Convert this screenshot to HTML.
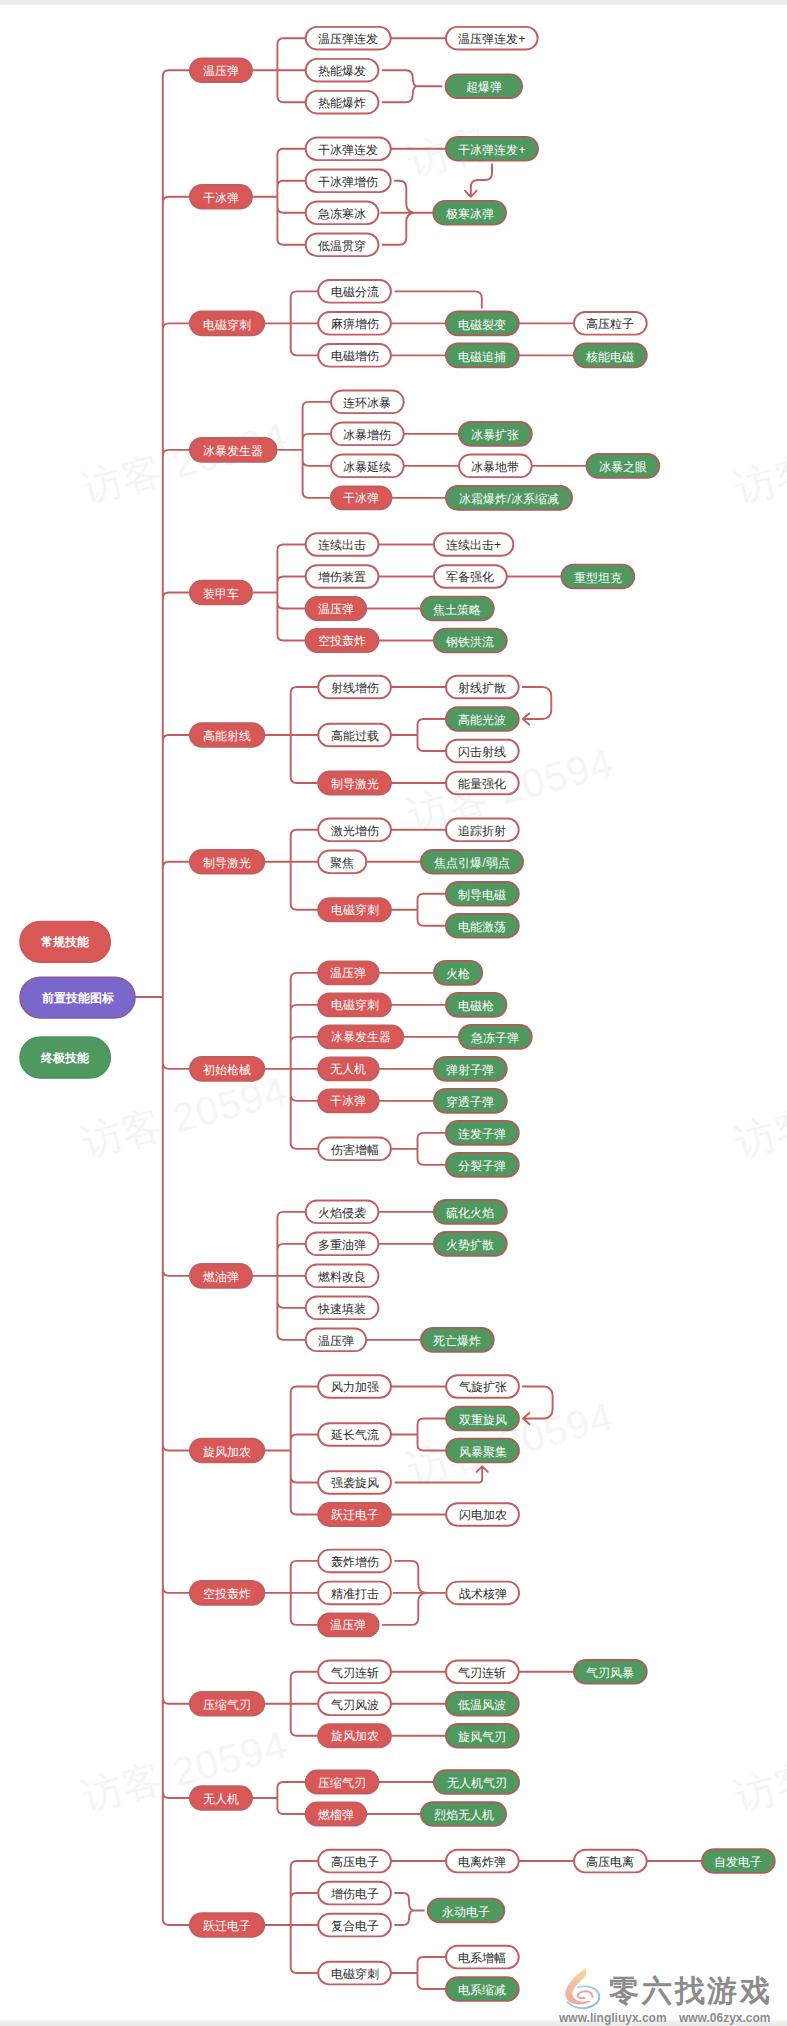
<!DOCTYPE html>
<html lang="zh"><head><meta charset="utf-8"><title>技能树</title>
<style>
html,body{margin:0;padding:0;background:#fff}
body{width:787px;height:2026px;position:relative;overflow:hidden;font-family:"Liberation Sans",sans-serif}
.bar{position:absolute;left:0;width:787px;background:#ececec}
svg.c{position:absolute;left:0;top:0}
.n{position:absolute;text-align:center;white-space:nowrap;font-size:12.3px;color:#fff;overflow:visible}
.w{color:#2a2a2a}
.root{font-weight:bold;font-size:12.3px}
.wm{position:absolute;font-size:40px;line-height:40px;height:40px;color:#f5f5f5;white-space:nowrap;transform:rotate(-15deg);transform-origin:0 100%;letter-spacing:1px}
.logo{position:absolute;left:609px;top:1972px;width:161px;font-size:30px;font-weight:bold;color:#8c8c8c;white-space:nowrap;line-height:38px;text-align:justify;text-align-last:justify;text-justify:inter-character}
.url{position:absolute;left:559px;top:2010.5px;font-size:12px;font-weight:bold;color:#8c8c8c;white-space:nowrap;line-height:14px;word-spacing:9px}

</style></head><body>
<div class="bar" style="top:0;height:6px;background:linear-gradient(to bottom,#ececec 0,#ececec 3.4px,#fff 6px)"></div><div class="bar" style="top:2019px;height:7px;background:linear-gradient(to bottom,#fff 0,#ececec 3.2px,#ececec 7px)"></div>
<div class="wm" style="left:414px;top:142px">访客</div>
<div class="wm" style="left:88px;top:469px">访客 20594</div>
<div class="wm" style="left:741px;top:469px">访客</div>
<div class="wm" style="left:414px;top:795px">访客 20594</div>
<div class="wm" style="left:88px;top:1123px">访客 20594</div>
<div class="wm" style="left:741px;top:1123px">访客</div>
<div class="wm" style="left:414px;top:1449px">访客 20594</div>
<div class="wm" style="left:88px;top:1777px">访客 20594</div>
<div class="wm" style="left:741px;top:1777px">访客</div>
<svg class="c" width="787" height="2026" viewBox="0 0 787 2026" fill="none" stroke="#c05e60" stroke-width="1.9" stroke-linecap="round" stroke-linejoin="round">
<path d="M250.90,70.20 H277.40 V44.20 Q277.40,38.20 283.40,38.20 H306.70 M250.90,70.20 H306.70 M250.90,70.20 H277.40 V96.20 Q277.40,102.20 283.40,102.20 H306.70 M389.70,38.20 L447.00,38.20 M382.60,70.20 H405.70 Q412.70,70.20 412.70,77.20 V77.20 Q412.70,85.20 416.50,86.20 M382.60,102.20 H405.70 Q412.70,102.20 412.70,95.20 V95.20 Q412.70,87.20 416.50,86.20 M416.50,86.20 H441.60 M250.90,196.78 H277.40 V154.78 Q277.40,148.78 283.40,148.78 H306.70 M250.90,196.78 H277.40 V186.78 Q277.40,180.78 283.40,180.78 H306.70 M250.90,196.78 H277.40 V206.78 Q277.40,212.78 283.40,212.78 H306.70 M250.90,196.78 H277.40 V238.78 Q277.40,244.78 283.40,244.78 H306.70 M389.70,148.78 L447.00,148.78 M394.90,180.78 H399.30 Q406.30,180.78 406.30,187.78 V203.78 Q406.30,211.78 414.30,212.78 M381.10,212.78 L414.30,212.78 H431.80 M382.60,244.78 H399.30 Q406.30,244.78 406.30,237.78 V221.78 Q406.30,213.78 414.30,212.78 M414.30,212.78 H429.30 M492.00,164.28 V173.28 Q492.00,179.98 485.00,179.98 H478.00 Q470.80,179.98 470.80,187.28 V196.78 M465.10,190.78 L470.80,196.78 L476.50,190.78 M263.20,323.36 H290.70 V297.36 Q290.70,291.36 296.70,291.36 H319.20 M263.20,323.36 H319.20 M263.20,323.36 H290.70 V349.36 Q290.70,355.36 296.70,355.36 H319.20 M389.90,323.36 L447.00,323.36 M389.90,355.36 L447.00,355.36 M517.70,323.36 L575.00,323.36 M517.70,355.36 L575.00,355.36 M395.40,291.36 H475.00 Q481.80,291.36 481.80,298.36 V307.86 M275.50,449.84 H302.60 V407.84 Q302.60,401.84 308.60,401.84 H332.00 M275.50,449.84 H302.60 V439.84 Q302.60,433.84 308.60,433.84 H332.00 M275.50,449.84 H302.60 V459.84 Q302.60,465.84 308.60,465.84 H332.00 M275.50,449.84 H302.60 V491.84 Q302.60,497.84 308.60,497.84 H332.00 M402.70,433.84 L460.00,433.84 M402.70,465.84 L460.00,465.84 M530.70,465.84 L587.50,465.84 M390.40,497.84 L447.00,497.84 M250.90,592.52 H277.40 V550.52 Q277.40,544.52 283.40,544.52 H306.70 M250.90,592.52 H277.40 V582.52 Q277.40,576.52 283.40,576.52 H306.70 M250.90,592.52 H277.40 V602.52 Q277.40,608.52 283.40,608.52 H306.70 M250.90,592.52 H277.40 V634.52 Q277.40,640.52 283.40,640.52 H306.70 M377.40,544.52 L435.00,544.52 M377.40,576.52 L435.00,576.52 M505.70,576.52 L562.50,576.52 M365.10,608.52 L422.00,608.52 M377.40,640.52 L435.00,640.52 M263.20,735.00 H290.70 V693.00 Q290.70,687.00 296.70,687.00 H319.20 M263.20,735.00 H319.20 M263.20,735.00 H290.70 V777.00 Q290.70,783.00 296.70,783.00 H319.20 M389.90,687.00 L447.00,687.00 M389.90,735.00 H417.50 V725.00 Q417.50,719.00 423.50,719.00 H447.00 M389.90,735.00 H417.50 V745.00 Q417.50,751.00 423.50,751.00 H447.00 M389.90,783.00 L447.00,783.00 M522.70,687.00 H542.80 A8.5,8.5 0 0 1 551.30,695.50 V710.50 A8.5,8.5 0 0 1 542.80,719.00 H522.90 M529.10,713.50 L522.90,719.00 L529.10,724.50 M263.20,861.78 H290.70 V835.78 Q290.70,829.78 296.70,829.78 H319.20 M263.20,861.78 H319.20 M263.20,861.78 H290.70 V903.78 Q290.70,909.78 296.70,909.78 H319.20 M389.90,829.78 L447.00,829.78 M365.30,861.78 L422.00,861.78 M389.90,909.78 H417.50 V899.78 Q417.50,893.78 423.50,893.78 H447.00 M389.90,909.78 H417.50 V919.78 Q417.50,925.78 423.50,925.78 H447.00 M263.20,1068.86 H290.70 V978.86 Q290.70,972.86 296.70,972.86 H319.20 M263.20,1068.86 H290.70 V1010.86 Q290.70,1004.86 296.70,1004.86 H319.20 M263.20,1068.86 H290.70 V1042.86 Q290.70,1036.86 296.70,1036.86 H319.20 M263.20,1068.86 H319.20 M263.20,1068.86 H290.70 V1094.86 Q290.70,1100.86 296.70,1100.86 H319.20 M263.20,1068.86 H290.70 V1142.86 Q290.70,1148.86 296.70,1148.86 H319.20 M377.60,972.86 L435.00,972.86 M389.90,1004.86 L447.00,1004.86 M402.20,1036.86 L460.00,1036.86 M377.60,1068.86 L435.00,1068.86 M377.60,1100.86 L435.00,1100.86 M389.90,1148.86 H417.50 V1138.86 Q417.50,1132.86 423.50,1132.86 H447.00 M389.90,1148.86 H417.50 V1158.86 Q417.50,1164.86 423.50,1164.86 H447.00 M250.90,1275.84 H277.40 V1217.84 Q277.40,1211.84 283.40,1211.84 H306.70 M250.90,1275.84 H277.40 V1249.84 Q277.40,1243.84 283.40,1243.84 H306.70 M250.90,1275.84 H306.70 M250.90,1275.84 H277.40 V1301.84 Q277.40,1307.84 283.40,1307.84 H306.70 M250.90,1275.84 H277.40 V1333.84 Q277.40,1339.84 283.40,1339.84 H306.70 M377.40,1211.84 L435.00,1211.84 M377.40,1243.84 L435.00,1243.84 M365.10,1339.84 L422.00,1339.84 M263.20,1450.52 H290.70 V1392.52 Q290.70,1386.52 296.70,1386.52 H319.20 M263.20,1450.52 H290.70 V1440.52 Q290.70,1434.52 296.70,1434.52 H319.20 M263.20,1450.52 H290.70 V1476.52 Q290.70,1482.52 296.70,1482.52 H319.20 M263.20,1450.52 H290.70 V1508.52 Q290.70,1514.52 296.70,1514.52 H319.20 M389.90,1386.52 L447.20,1386.52 M389.90,1434.52 H417.50 V1424.52 Q417.50,1418.52 423.50,1418.52 H447.20 M389.90,1434.52 H417.50 V1444.52 Q417.50,1450.52 423.50,1450.52 H447.20 M389.90,1514.52 L447.20,1514.52 M522.90,1386.52 H544.10 A8.5,8.5 0 0 1 552.60,1395.02 V1410.02 A8.5,8.5 0 0 1 544.10,1418.52 H523.10 M529.30,1413.02 L523.10,1418.52 L529.30,1424.02 M395.40,1482.52 H478.70 Q482.20,1482.52 482.20,1479.02 V1466.32 M476.60,1471.92 L482.20,1466.32 L487.80,1471.92 M263.20,1592.90 H290.70 V1566.90 Q290.70,1560.90 296.70,1560.90 H319.20 M263.20,1592.90 H319.20 M263.20,1592.90 H290.70 V1618.90 Q290.70,1624.90 296.70,1624.90 H319.20 M395.10,1560.90 H411.30 Q418.30,1560.90 418.30,1567.90 V1583.90 Q418.30,1591.90 426.00,1592.90 M393.60,1592.90 L426.00,1592.90 H444.80 M382.80,1624.90 H411.30 Q418.30,1624.90 418.30,1617.90 V1601.90 Q418.30,1593.90 426.00,1592.90 M426.00,1592.90 H442.30 M263.20,1703.78 H290.70 V1677.78 Q290.70,1671.78 296.70,1671.78 H319.20 M263.20,1703.78 H319.20 M263.20,1703.78 H290.70 V1729.78 Q290.70,1735.78 296.70,1735.78 H319.20 M389.90,1671.78 L447.00,1671.78 M389.90,1703.78 L447.00,1703.78 M389.90,1735.78 L447.00,1735.78 M517.70,1671.78 L575.00,1671.78 M250.90,1798.06 H277.40 V1788.06 Q277.40,1782.06 283.40,1782.06 H306.70 M250.90,1798.06 H277.40 V1808.06 Q277.40,1814.06 283.40,1814.06 H306.70 M377.40,1782.06 L435.00,1782.06 M365.10,1814.06 L422.00,1814.06 M263.20,1925.04 H290.70 V1867.04 Q290.70,1861.04 296.70,1861.04 H319.20 M263.20,1925.04 H290.70 V1899.04 Q290.70,1893.04 296.70,1893.04 H319.20 M263.20,1925.04 H319.20 M263.20,1925.04 H290.70 V1967.04 Q290.70,1973.04 296.70,1973.04 H319.20 M389.90,1861.04 L447.00,1861.04 M517.70,1861.04 L575.00,1861.04 M645.70,1861.04 L703.00,1861.04 M395.10,1893.04 H403.00 Q409.00,1893.04 409.00,1899.04 V1901.44 Q409.00,1909.44 413.00,1910.44 M395.10,1925.04 H403.00 Q409.00,1925.04 409.00,1919.04 V1919.44 Q409.00,1911.44 413.00,1910.44 M413.00,1910.44 H423.80 M389.90,1973.04 H417.50 V1963.04 Q417.50,1957.04 423.50,1957.04 H447.00 M389.90,1973.04 H417.50 V1983.04 Q417.50,1989.04 423.50,1989.04 H447.00 M134.00,997.00 H162.80 M162.80,997.00 V76.20 Q162.80,70.20 168.80,70.20 H191.00 M162.80,997.00 V202.78 Q162.80,196.78 168.80,196.78 H191.00 M162.80,997.00 V329.36 Q162.80,323.36 168.80,323.36 H191.00 M162.80,997.00 V455.84 Q162.80,449.84 168.80,449.84 H191.00 M162.80,997.00 V598.52 Q162.80,592.52 168.80,592.52 H191.00 M162.80,997.00 V741.00 Q162.80,735.00 168.80,735.00 H191.00 M162.80,997.00 V867.78 Q162.80,861.78 168.80,861.78 H191.00 M162.80,997.00 V1062.86 Q162.80,1068.86 168.80,1068.86 H191.00 M162.80,997.00 V1269.84 Q162.80,1275.84 168.80,1275.84 H191.00 M162.80,997.00 V1444.52 Q162.80,1450.52 168.80,1450.52 H191.00 M162.80,997.00 V1586.90 Q162.80,1592.90 168.80,1592.90 H191.00 M162.80,997.00 V1697.78 Q162.80,1703.78 168.80,1703.78 H191.00 M162.80,997.00 V1792.06 Q162.80,1798.06 168.80,1798.06 H191.00 M162.80,997.00 V1919.04 Q162.80,1925.04 168.80,1925.04 H191.00"/>
<rect x="19.95" y="921.35" width="90.40" height="40.90" rx="20.45" fill="#d85757" stroke="#cf5556" stroke-width="1.4"/>
<rect x="19.95" y="977.15" width="115.10" height="40.90" rx="20.45" fill="#7b67cc" stroke="#8d5a8c" stroke-width="1.5"/>
<rect x="19.95" y="1037.05" width="90.40" height="40.90" rx="20.45" fill="#4f9960" stroke="#4d9060" stroke-width="1.4"/>
<rect x="189.95" y="58.35" width="62.00" height="23.70" rx="11.85" fill="#d85757"/>
<rect x="305.65" y="26.90" width="85.10" height="22.60" rx="11.30" fill="#ffffff"/>
<rect x="305.65" y="58.90" width="72.80" height="22.60" rx="11.30" fill="#ffffff"/>
<rect x="305.65" y="90.90" width="72.80" height="22.60" rx="11.30" fill="#ffffff"/>
<rect x="445.95" y="26.90" width="91.70" height="22.60" rx="11.30" fill="#ffffff"/>
<rect x="445.55" y="74.35" width="76.50" height="23.70" rx="11.85" fill="#4f9960" stroke="#a9605a"/>
<rect x="189.95" y="184.93" width="62.00" height="23.70" rx="11.85" fill="#d85757"/>
<rect x="305.65" y="137.48" width="85.10" height="22.60" rx="11.30" fill="#ffffff"/>
<rect x="305.65" y="169.48" width="85.10" height="22.60" rx="11.30" fill="#ffffff"/>
<rect x="305.65" y="201.48" width="72.80" height="22.60" rx="11.30" fill="#ffffff"/>
<rect x="305.65" y="233.48" width="72.80" height="22.60" rx="11.30" fill="#ffffff"/>
<rect x="445.95" y="136.93" width="92.10" height="23.70" rx="11.85" fill="#4f9960" stroke="#a9605a"/>
<rect x="433.25" y="200.93" width="72.80" height="23.70" rx="11.85" fill="#4f9960" stroke="#a9605a"/>
<rect x="189.95" y="311.51" width="74.30" height="23.70" rx="11.85" fill="#d85757"/>
<rect x="318.15" y="280.06" width="72.80" height="22.60" rx="11.30" fill="#ffffff"/>
<rect x="318.15" y="312.06" width="72.80" height="22.60" rx="11.30" fill="#ffffff"/>
<rect x="318.15" y="344.06" width="72.80" height="22.60" rx="11.30" fill="#ffffff"/>
<rect x="445.95" y="311.51" width="72.80" height="23.70" rx="11.85" fill="#4f9960" stroke="#a9605a"/>
<rect x="445.95" y="343.51" width="72.80" height="23.70" rx="11.85" fill="#4f9960" stroke="#a9605a"/>
<rect x="573.95" y="312.06" width="72.80" height="22.60" rx="11.30" fill="#ffffff"/>
<rect x="573.95" y="343.51" width="72.80" height="23.70" rx="11.85" fill="#4f9960" stroke="#a9605a"/>
<rect x="189.95" y="437.99" width="86.60" height="23.70" rx="11.85" fill="#d85757"/>
<rect x="330.95" y="390.54" width="72.80" height="22.60" rx="11.30" fill="#ffffff"/>
<rect x="330.95" y="422.54" width="72.80" height="22.60" rx="11.30" fill="#ffffff"/>
<rect x="330.95" y="454.54" width="72.80" height="22.60" rx="11.30" fill="#ffffff"/>
<rect x="330.95" y="486.34" width="60.50" height="23.00" rx="11.50" fill="#d85757"/>
<rect x="458.95" y="421.99" width="72.80" height="23.70" rx="11.85" fill="#4f9960" stroke="#a9605a"/>
<rect x="458.95" y="454.54" width="72.80" height="22.60" rx="11.30" fill="#ffffff"/>
<rect x="586.45" y="453.99" width="72.80" height="23.70" rx="11.85" fill="#4f9960" stroke="#a9605a"/>
<rect x="445.95" y="485.99" width="126.10" height="23.70" rx="11.85" fill="#4f9960" stroke="#a9605a"/>
<rect x="189.95" y="580.67" width="62.00" height="23.70" rx="11.85" fill="#d85757"/>
<rect x="305.65" y="533.22" width="72.80" height="22.60" rx="11.30" fill="#ffffff"/>
<rect x="305.65" y="565.22" width="72.80" height="22.60" rx="11.30" fill="#ffffff"/>
<rect x="305.65" y="597.02" width="60.50" height="23.00" rx="11.50" fill="#d85757"/>
<rect x="305.65" y="629.02" width="72.80" height="23.00" rx="11.50" fill="#d85757"/>
<rect x="433.95" y="533.22" width="79.40" height="22.60" rx="11.30" fill="#ffffff"/>
<rect x="433.95" y="565.22" width="72.80" height="22.60" rx="11.30" fill="#ffffff"/>
<rect x="561.45" y="564.67" width="72.80" height="23.70" rx="11.85" fill="#4f9960" stroke="#a9605a"/>
<rect x="420.95" y="596.67" width="72.80" height="23.70" rx="11.85" fill="#4f9960" stroke="#a9605a"/>
<rect x="433.95" y="628.67" width="72.80" height="23.70" rx="11.85" fill="#4f9960" stroke="#a9605a"/>
<rect x="189.95" y="723.15" width="74.30" height="23.70" rx="11.85" fill="#d85757"/>
<rect x="318.15" y="675.70" width="72.80" height="22.60" rx="11.30" fill="#ffffff"/>
<rect x="318.15" y="723.70" width="72.80" height="22.60" rx="11.30" fill="#ffffff"/>
<rect x="318.15" y="771.50" width="72.80" height="23.00" rx="11.50" fill="#d85757"/>
<rect x="445.95" y="675.70" width="72.80" height="22.60" rx="11.30" fill="#ffffff"/>
<rect x="445.95" y="707.15" width="72.80" height="23.70" rx="11.85" fill="#4f9960" stroke="#a9605a"/>
<rect x="445.95" y="739.70" width="72.80" height="22.60" rx="11.30" fill="#ffffff"/>
<rect x="445.95" y="771.70" width="72.80" height="22.60" rx="11.30" fill="#ffffff"/>
<rect x="189.95" y="849.93" width="74.30" height="23.70" rx="11.85" fill="#d85757"/>
<rect x="318.15" y="818.48" width="72.80" height="22.60" rx="11.30" fill="#ffffff"/>
<rect x="318.15" y="850.48" width="48.20" height="22.60" rx="11.30" fill="#ffffff"/>
<rect x="318.15" y="898.28" width="72.80" height="23.00" rx="11.50" fill="#d85757"/>
<rect x="445.95" y="818.48" width="72.80" height="22.60" rx="11.30" fill="#ffffff"/>
<rect x="420.95" y="849.93" width="102.10" height="23.70" rx="11.85" fill="#4f9960" stroke="#a9605a"/>
<rect x="445.95" y="881.93" width="72.80" height="23.70" rx="11.85" fill="#4f9960" stroke="#a9605a"/>
<rect x="445.95" y="913.93" width="72.80" height="23.70" rx="11.85" fill="#4f9960" stroke="#a9605a"/>
<rect x="189.95" y="1057.01" width="74.30" height="23.70" rx="11.85" fill="#d85757"/>
<rect x="318.15" y="961.36" width="60.50" height="23.00" rx="11.50" fill="#d85757"/>
<rect x="318.15" y="993.36" width="72.80" height="23.00" rx="11.50" fill="#d85757"/>
<rect x="318.15" y="1025.36" width="85.10" height="23.00" rx="11.50" fill="#d85757"/>
<rect x="318.15" y="1057.36" width="60.50" height="23.00" rx="11.50" fill="#d85757"/>
<rect x="318.15" y="1089.36" width="60.50" height="23.00" rx="11.50" fill="#d85757"/>
<rect x="318.15" y="1137.56" width="72.80" height="22.60" rx="11.30" fill="#ffffff"/>
<rect x="433.95" y="961.01" width="48.20" height="23.70" rx="11.85" fill="#4f9960" stroke="#a9605a"/>
<rect x="445.95" y="993.01" width="60.50" height="23.70" rx="11.85" fill="#4f9960" stroke="#a9605a"/>
<rect x="458.95" y="1025.01" width="72.80" height="23.70" rx="11.85" fill="#4f9960" stroke="#a9605a"/>
<rect x="433.95" y="1057.01" width="72.80" height="23.70" rx="11.85" fill="#4f9960" stroke="#a9605a"/>
<rect x="433.95" y="1089.01" width="72.80" height="23.70" rx="11.85" fill="#4f9960" stroke="#a9605a"/>
<rect x="445.95" y="1121.01" width="72.80" height="23.70" rx="11.85" fill="#4f9960" stroke="#a9605a"/>
<rect x="445.95" y="1153.01" width="72.80" height="23.70" rx="11.85" fill="#4f9960" stroke="#a9605a"/>
<rect x="189.95" y="1263.99" width="62.00" height="23.70" rx="11.85" fill="#d85757"/>
<rect x="305.65" y="1200.54" width="72.80" height="22.60" rx="11.30" fill="#ffffff"/>
<rect x="305.65" y="1232.54" width="72.80" height="22.60" rx="11.30" fill="#ffffff"/>
<rect x="305.65" y="1264.54" width="72.80" height="22.60" rx="11.30" fill="#ffffff"/>
<rect x="305.65" y="1296.54" width="72.80" height="22.60" rx="11.30" fill="#ffffff"/>
<rect x="305.65" y="1328.54" width="60.50" height="22.60" rx="11.30" fill="#ffffff"/>
<rect x="433.95" y="1199.99" width="72.80" height="23.70" rx="11.85" fill="#4f9960" stroke="#a9605a"/>
<rect x="433.95" y="1231.99" width="72.80" height="23.70" rx="11.85" fill="#4f9960" stroke="#a9605a"/>
<rect x="420.95" y="1327.99" width="72.80" height="23.70" rx="11.85" fill="#4f9960" stroke="#a9605a"/>
<rect x="189.95" y="1438.67" width="74.30" height="23.70" rx="11.85" fill="#d85757"/>
<rect x="318.15" y="1375.22" width="72.80" height="22.60" rx="11.30" fill="#ffffff"/>
<rect x="318.15" y="1423.22" width="72.80" height="22.60" rx="11.30" fill="#ffffff"/>
<rect x="318.15" y="1471.22" width="72.80" height="22.60" rx="11.30" fill="#ffffff"/>
<rect x="318.15" y="1503.02" width="72.80" height="23.00" rx="11.50" fill="#d85757"/>
<rect x="446.15" y="1375.22" width="72.80" height="22.60" rx="11.30" fill="#ffffff"/>
<rect x="446.15" y="1406.67" width="72.80" height="23.70" rx="11.85" fill="#4f9960" stroke="#a9605a"/>
<rect x="446.15" y="1438.67" width="72.80" height="23.70" rx="11.85" fill="#4f9960" stroke="#a9605a"/>
<rect x="446.15" y="1503.22" width="72.80" height="22.60" rx="11.30" fill="#ffffff"/>
<rect x="189.95" y="1581.05" width="74.30" height="23.70" rx="11.85" fill="#d85757"/>
<rect x="318.15" y="1549.60" width="72.80" height="22.60" rx="11.30" fill="#ffffff"/>
<rect x="318.15" y="1581.60" width="72.80" height="22.60" rx="11.30" fill="#ffffff"/>
<rect x="318.15" y="1613.40" width="60.50" height="23.00" rx="11.50" fill="#d85757"/>
<rect x="446.25" y="1581.60" width="72.80" height="22.60" rx="11.30" fill="#ffffff"/>
<rect x="189.95" y="1691.93" width="74.30" height="23.70" rx="11.85" fill="#d85757"/>
<rect x="318.15" y="1660.48" width="72.80" height="22.60" rx="11.30" fill="#ffffff"/>
<rect x="318.15" y="1692.48" width="72.80" height="22.60" rx="11.30" fill="#ffffff"/>
<rect x="318.15" y="1724.28" width="72.80" height="23.00" rx="11.50" fill="#d85757"/>
<rect x="445.95" y="1660.48" width="72.80" height="22.60" rx="11.30" fill="#ffffff"/>
<rect x="445.95" y="1691.93" width="72.80" height="23.70" rx="11.85" fill="#4f9960" stroke="#a9605a"/>
<rect x="445.95" y="1723.93" width="72.80" height="23.70" rx="11.85" fill="#4f9960" stroke="#a9605a"/>
<rect x="573.95" y="1659.93" width="72.80" height="23.70" rx="11.85" fill="#4f9960" stroke="#a9605a"/>
<rect x="189.95" y="1786.21" width="62.00" height="23.70" rx="11.85" fill="#d85757"/>
<rect x="305.65" y="1770.56" width="72.80" height="23.00" rx="11.50" fill="#d85757"/>
<rect x="305.65" y="1802.56" width="60.50" height="23.00" rx="11.50" fill="#d85757"/>
<rect x="433.95" y="1770.21" width="85.10" height="23.70" rx="11.85" fill="#4f9960" stroke="#a9605a"/>
<rect x="420.95" y="1802.21" width="85.10" height="23.70" rx="11.85" fill="#4f9960" stroke="#a9605a"/>
<rect x="189.95" y="1913.19" width="74.30" height="23.70" rx="11.85" fill="#d85757"/>
<rect x="318.15" y="1849.74" width="72.80" height="22.60" rx="11.30" fill="#ffffff"/>
<rect x="318.15" y="1881.74" width="72.80" height="22.60" rx="11.30" fill="#ffffff"/>
<rect x="318.15" y="1913.74" width="72.80" height="22.60" rx="11.30" fill="#ffffff"/>
<rect x="318.15" y="1961.74" width="72.80" height="22.60" rx="11.30" fill="#ffffff"/>
<rect x="445.95" y="1849.74" width="72.80" height="22.60" rx="11.30" fill="#ffffff"/>
<rect x="573.95" y="1849.74" width="72.80" height="22.60" rx="11.30" fill="#ffffff"/>
<rect x="701.95" y="1849.19" width="72.80" height="23.70" rx="11.85" fill="#4f9960" stroke="#a9605a"/>
<rect x="427.75" y="1898.59" width="76.60" height="23.70" rx="11.85" fill="#4f9960" stroke="#a9605a"/>
<rect x="445.95" y="1945.74" width="72.80" height="22.60" rx="11.30" fill="#ffffff"/>
<rect x="445.95" y="1977.19" width="72.80" height="23.70" rx="11.85" fill="#4f9960" stroke="#a9605a"/>
</svg>
<div class="n root" style="left:19.0px;top:920.40px;width:92.3px;height:42.8px;line-height:45.4px">常规技能</div>
<div class="n root" style="left:19.0px;top:976.20px;width:117.0px;height:42.8px;line-height:45.4px">前置技能图标</div>
<div class="n root" style="left:19.0px;top:1036.10px;width:92.3px;height:42.8px;line-height:45.4px">终极技能</div>
<div class="n" style="left:189.0px;top:57.40px;width:63.9px;height:25.6px;line-height:28.2px">温压弹</div>
<div class="n w" style="left:304.7px;top:25.95px;width:87.0px;height:24.5px;line-height:27.1px">温压弹连发</div>
<div class="n w" style="left:304.7px;top:57.95px;width:74.7px;height:24.5px;line-height:27.1px">热能爆发</div>
<div class="n w" style="left:304.7px;top:89.95px;width:74.7px;height:24.5px;line-height:27.1px">热能爆炸</div>
<div class="n w" style="left:445.0px;top:25.95px;width:93.6px;height:24.5px;line-height:27.1px">温压弹连发+</div>
<div class="n" style="left:444.6px;top:73.40px;width:78.4px;height:25.6px;line-height:28.2px">超爆弹</div>
<div class="n" style="left:189.0px;top:183.98px;width:63.9px;height:25.6px;line-height:28.2px">干冰弹</div>
<div class="n w" style="left:304.7px;top:136.53px;width:87.0px;height:24.5px;line-height:27.1px">干冰弹连发</div>
<div class="n w" style="left:304.7px;top:168.53px;width:87.0px;height:24.5px;line-height:27.1px">干冰弹增伤</div>
<div class="n w" style="left:304.7px;top:200.53px;width:74.7px;height:24.5px;line-height:27.1px">急冻寒冰</div>
<div class="n w" style="left:304.7px;top:232.53px;width:74.7px;height:24.5px;line-height:27.1px">低温贯穿</div>
<div class="n" style="left:445.0px;top:135.98px;width:94.0px;height:25.6px;line-height:28.2px">干冰弹连发+</div>
<div class="n" style="left:432.3px;top:199.98px;width:74.7px;height:25.6px;line-height:28.2px">极寒冰弹</div>
<div class="n" style="left:189.0px;top:310.56px;width:76.2px;height:25.6px;line-height:28.2px">电磁穿刺</div>
<div class="n w" style="left:317.2px;top:279.11px;width:74.7px;height:24.5px;line-height:27.1px">电磁分流</div>
<div class="n w" style="left:317.2px;top:311.11px;width:74.7px;height:24.5px;line-height:27.1px">麻痹增伤</div>
<div class="n w" style="left:317.2px;top:343.11px;width:74.7px;height:24.5px;line-height:27.1px">电磁增伤</div>
<div class="n" style="left:445.0px;top:310.56px;width:74.7px;height:25.6px;line-height:28.2px">电磁裂变</div>
<div class="n" style="left:445.0px;top:342.56px;width:74.7px;height:25.6px;line-height:28.2px">电磁追捕</div>
<div class="n w" style="left:573.0px;top:311.11px;width:74.7px;height:24.5px;line-height:27.1px">高压粒子</div>
<div class="n" style="left:573.0px;top:342.56px;width:74.7px;height:25.6px;line-height:28.2px">核能电磁</div>
<div class="n" style="left:189.0px;top:437.04px;width:88.5px;height:25.6px;line-height:28.2px">冰暴发生器</div>
<div class="n w" style="left:330.0px;top:389.59px;width:74.7px;height:24.5px;line-height:27.1px">连环冰暴</div>
<div class="n w" style="left:330.0px;top:421.59px;width:74.7px;height:24.5px;line-height:27.1px">冰暴增伤</div>
<div class="n w" style="left:330.0px;top:453.59px;width:74.7px;height:24.5px;line-height:27.1px">冰暴延续</div>
<div class="n" style="left:330.0px;top:485.39px;width:62.4px;height:24.9px;line-height:27.5px">干冰弹</div>
<div class="n" style="left:458.0px;top:421.04px;width:74.7px;height:25.6px;line-height:28.2px">冰暴扩张</div>
<div class="n w" style="left:458.0px;top:453.59px;width:74.7px;height:24.5px;line-height:27.1px">冰暴地带</div>
<div class="n" style="left:585.5px;top:453.04px;width:74.7px;height:25.6px;line-height:28.2px">冰暴之眼</div>
<div class="n" style="left:445.0px;top:485.04px;width:128.0px;height:25.6px;line-height:28.2px">冰霜爆炸/冰系缩减</div>
<div class="n" style="left:189.0px;top:579.72px;width:63.9px;height:25.6px;line-height:28.2px">装甲车</div>
<div class="n w" style="left:304.7px;top:532.27px;width:74.7px;height:24.5px;line-height:27.1px">连续出击</div>
<div class="n w" style="left:304.7px;top:564.27px;width:74.7px;height:24.5px;line-height:27.1px">增伤装置</div>
<div class="n" style="left:304.7px;top:596.07px;width:62.4px;height:24.9px;line-height:27.5px">温压弹</div>
<div class="n" style="left:304.7px;top:628.07px;width:74.7px;height:24.9px;line-height:27.5px">空投轰炸</div>
<div class="n w" style="left:433.0px;top:532.27px;width:81.3px;height:24.5px;line-height:27.1px">连续出击+</div>
<div class="n w" style="left:433.0px;top:564.27px;width:74.7px;height:24.5px;line-height:27.1px">军备强化</div>
<div class="n" style="left:560.5px;top:563.72px;width:74.7px;height:25.6px;line-height:28.2px">重型坦克</div>
<div class="n" style="left:420.0px;top:595.72px;width:74.7px;height:25.6px;line-height:28.2px">焦土策略</div>
<div class="n" style="left:433.0px;top:627.72px;width:74.7px;height:25.6px;line-height:28.2px">钢铁洪流</div>
<div class="n" style="left:189.0px;top:722.20px;width:76.2px;height:25.6px;line-height:28.2px">高能射线</div>
<div class="n w" style="left:317.2px;top:674.75px;width:74.7px;height:24.5px;line-height:27.1px">射线增伤</div>
<div class="n w" style="left:317.2px;top:722.75px;width:74.7px;height:24.5px;line-height:27.1px">高能过载</div>
<div class="n" style="left:317.2px;top:770.55px;width:74.7px;height:24.9px;line-height:27.5px">制导激光</div>
<div class="n w" style="left:445.0px;top:674.75px;width:74.7px;height:24.5px;line-height:27.1px">射线扩散</div>
<div class="n" style="left:445.0px;top:706.20px;width:74.7px;height:25.6px;line-height:28.2px">高能光波</div>
<div class="n w" style="left:445.0px;top:738.75px;width:74.7px;height:24.5px;line-height:27.1px">闪击射线</div>
<div class="n w" style="left:445.0px;top:770.75px;width:74.7px;height:24.5px;line-height:27.1px">能量强化</div>
<div class="n" style="left:189.0px;top:848.98px;width:76.2px;height:25.6px;line-height:28.2px">制导激光</div>
<div class="n w" style="left:317.2px;top:817.53px;width:74.7px;height:24.5px;line-height:27.1px">激光增伤</div>
<div class="n w" style="left:317.2px;top:849.53px;width:50.1px;height:24.5px;line-height:27.1px">聚焦</div>
<div class="n" style="left:317.2px;top:897.33px;width:74.7px;height:24.9px;line-height:27.5px">电磁穿刺</div>
<div class="n w" style="left:445.0px;top:817.53px;width:74.7px;height:24.5px;line-height:27.1px">追踪折射</div>
<div class="n" style="left:420.0px;top:848.98px;width:104.0px;height:25.6px;line-height:28.2px">焦点引爆/弱点</div>
<div class="n" style="left:445.0px;top:880.98px;width:74.7px;height:25.6px;line-height:28.2px">制导电磁</div>
<div class="n" style="left:445.0px;top:912.98px;width:74.7px;height:25.6px;line-height:28.2px">电能激荡</div>
<div class="n" style="left:189.0px;top:1056.06px;width:76.2px;height:25.6px;line-height:28.2px">初始枪械</div>
<div class="n" style="left:317.2px;top:960.41px;width:62.4px;height:24.9px;line-height:27.5px">温压弹</div>
<div class="n" style="left:317.2px;top:992.41px;width:74.7px;height:24.9px;line-height:27.5px">电磁穿刺</div>
<div class="n" style="left:317.2px;top:1024.41px;width:87.0px;height:24.9px;line-height:27.5px">冰暴发生器</div>
<div class="n" style="left:317.2px;top:1056.41px;width:62.4px;height:24.9px;line-height:27.5px">无人机</div>
<div class="n" style="left:317.2px;top:1088.41px;width:62.4px;height:24.9px;line-height:27.5px">干冰弹</div>
<div class="n w" style="left:317.2px;top:1136.61px;width:74.7px;height:24.5px;line-height:27.1px">伤害增幅</div>
<div class="n" style="left:433.0px;top:960.06px;width:50.1px;height:25.6px;line-height:28.2px">火枪</div>
<div class="n" style="left:445.0px;top:992.06px;width:62.4px;height:25.6px;line-height:28.2px">电磁枪</div>
<div class="n" style="left:458.0px;top:1024.06px;width:74.7px;height:25.6px;line-height:28.2px">急冻子弹</div>
<div class="n" style="left:433.0px;top:1056.06px;width:74.7px;height:25.6px;line-height:28.2px">弹射子弹</div>
<div class="n" style="left:433.0px;top:1088.06px;width:74.7px;height:25.6px;line-height:28.2px">穿透子弹</div>
<div class="n" style="left:445.0px;top:1120.06px;width:74.7px;height:25.6px;line-height:28.2px">连发子弹</div>
<div class="n" style="left:445.0px;top:1152.06px;width:74.7px;height:25.6px;line-height:28.2px">分裂子弹</div>
<div class="n" style="left:189.0px;top:1263.04px;width:63.9px;height:25.6px;line-height:28.2px">燃油弹</div>
<div class="n w" style="left:304.7px;top:1199.59px;width:74.7px;height:24.5px;line-height:27.1px">火焰侵袭</div>
<div class="n w" style="left:304.7px;top:1231.59px;width:74.7px;height:24.5px;line-height:27.1px">多重油弹</div>
<div class="n w" style="left:304.7px;top:1263.59px;width:74.7px;height:24.5px;line-height:27.1px">燃料改良</div>
<div class="n w" style="left:304.7px;top:1295.59px;width:74.7px;height:24.5px;line-height:27.1px">快速填装</div>
<div class="n w" style="left:304.7px;top:1327.59px;width:62.4px;height:24.5px;line-height:27.1px">温压弹</div>
<div class="n" style="left:433.0px;top:1199.04px;width:74.7px;height:25.6px;line-height:28.2px">硫化火焰</div>
<div class="n" style="left:433.0px;top:1231.04px;width:74.7px;height:25.6px;line-height:28.2px">火势扩散</div>
<div class="n" style="left:420.0px;top:1327.04px;width:74.7px;height:25.6px;line-height:28.2px">死亡爆炸</div>
<div class="n" style="left:189.0px;top:1437.72px;width:76.2px;height:25.6px;line-height:28.2px">旋风加农</div>
<div class="n w" style="left:317.2px;top:1374.27px;width:74.7px;height:24.5px;line-height:27.1px">风力加强</div>
<div class="n w" style="left:317.2px;top:1422.27px;width:74.7px;height:24.5px;line-height:27.1px">延长气流</div>
<div class="n w" style="left:317.2px;top:1470.27px;width:74.7px;height:24.5px;line-height:27.1px">强袭旋风</div>
<div class="n" style="left:317.2px;top:1502.07px;width:74.7px;height:24.9px;line-height:27.5px">跃迁电子</div>
<div class="n w" style="left:445.2px;top:1374.27px;width:74.7px;height:24.5px;line-height:27.1px">气旋扩张</div>
<div class="n" style="left:445.2px;top:1405.72px;width:74.7px;height:25.6px;line-height:28.2px">双重旋风</div>
<div class="n" style="left:445.2px;top:1437.72px;width:74.7px;height:25.6px;line-height:28.2px">风暴聚集</div>
<div class="n w" style="left:445.2px;top:1502.27px;width:74.7px;height:24.5px;line-height:27.1px">闪电加农</div>
<div class="n" style="left:189.0px;top:1580.10px;width:76.2px;height:25.6px;line-height:28.2px">空投轰炸</div>
<div class="n w" style="left:317.2px;top:1548.65px;width:74.7px;height:24.5px;line-height:27.1px">轰炸增伤</div>
<div class="n w" style="left:317.2px;top:1580.65px;width:74.7px;height:24.5px;line-height:27.1px">精准打击</div>
<div class="n" style="left:317.2px;top:1612.45px;width:62.4px;height:24.9px;line-height:27.5px">温压弹</div>
<div class="n w" style="left:445.3px;top:1580.65px;width:74.7px;height:24.5px;line-height:27.1px">战术核弹</div>
<div class="n" style="left:189.0px;top:1690.98px;width:76.2px;height:25.6px;line-height:28.2px">压缩气刃</div>
<div class="n w" style="left:317.2px;top:1659.53px;width:74.7px;height:24.5px;line-height:27.1px">气刃连斩</div>
<div class="n w" style="left:317.2px;top:1691.53px;width:74.7px;height:24.5px;line-height:27.1px">气刃风波</div>
<div class="n" style="left:317.2px;top:1723.33px;width:74.7px;height:24.9px;line-height:27.5px">旋风加农</div>
<div class="n w" style="left:445.0px;top:1659.53px;width:74.7px;height:24.5px;line-height:27.1px">气刃连斩</div>
<div class="n" style="left:445.0px;top:1690.98px;width:74.7px;height:25.6px;line-height:28.2px">低温风波</div>
<div class="n" style="left:445.0px;top:1722.98px;width:74.7px;height:25.6px;line-height:28.2px">旋风气刃</div>
<div class="n" style="left:573.0px;top:1658.98px;width:74.7px;height:25.6px;line-height:28.2px">气刃风暴</div>
<div class="n" style="left:189.0px;top:1785.26px;width:63.9px;height:25.6px;line-height:28.2px">无人机</div>
<div class="n" style="left:304.7px;top:1769.61px;width:74.7px;height:24.9px;line-height:27.5px">压缩气刃</div>
<div class="n" style="left:304.7px;top:1801.61px;width:62.4px;height:24.9px;line-height:27.5px">燃榴弹</div>
<div class="n" style="left:433.0px;top:1769.26px;width:87.0px;height:25.6px;line-height:28.2px">无人机气刃</div>
<div class="n" style="left:420.0px;top:1801.26px;width:87.0px;height:25.6px;line-height:28.2px">烈焰无人机</div>
<div class="n" style="left:189.0px;top:1912.24px;width:76.2px;height:25.6px;line-height:28.2px">跃迁电子</div>
<div class="n w" style="left:317.2px;top:1848.79px;width:74.7px;height:24.5px;line-height:27.1px">高压电子</div>
<div class="n w" style="left:317.2px;top:1880.79px;width:74.7px;height:24.5px;line-height:27.1px">增伤电子</div>
<div class="n w" style="left:317.2px;top:1912.79px;width:74.7px;height:24.5px;line-height:27.1px">复合电子</div>
<div class="n w" style="left:317.2px;top:1960.79px;width:74.7px;height:24.5px;line-height:27.1px">电磁穿刺</div>
<div class="n w" style="left:445.0px;top:1848.79px;width:74.7px;height:24.5px;line-height:27.1px">电离炸弹</div>
<div class="n w" style="left:573.0px;top:1848.79px;width:74.7px;height:24.5px;line-height:27.1px">高压电离</div>
<div class="n" style="left:701.0px;top:1848.24px;width:74.7px;height:25.6px;line-height:28.2px">自发电子</div>
<div class="n" style="left:426.8px;top:1897.64px;width:78.5px;height:25.6px;line-height:28.2px">永动电子</div>
<div class="n w" style="left:445.0px;top:1944.79px;width:74.7px;height:24.5px;line-height:27.1px">电系增幅</div>
<div class="n" style="left:445.0px;top:1976.24px;width:74.7px;height:25.6px;line-height:28.2px">电系缩减</div>
<svg class="c" width="787" height="2026" viewBox="0 0 787 2026">
<defs>
<linearGradient id="lg1" gradientUnits="userSpaceOnUse" x1="586" y1="1968" x2="574" y2="2004"><stop offset="0" stop-color="#f9d795"/><stop offset="0.45" stop-color="#f7ba92"/><stop offset="1" stop-color="#f0a09a"/></linearGradient>
<linearGradient id="lg2" gradientUnits="userSpaceOnUse" x1="578" y1="1986" x2="590" y2="2008"><stop offset="0" stop-color="#a8dcd8"/><stop offset="0.4" stop-color="#9cc4e6"/><stop offset="1" stop-color="#8fb8e2"/></linearGradient>
</defs>
<path d="M585.50,1967.80 C584.62,1968.53 582.10,1970.58 580.20,1972.20 C578.30,1973.82 576.23,1975.08 574.10,1977.50 C571.97,1979.92 568.85,1983.90 567.40,1986.70 C565.95,1989.50 565.30,1992.02 565.40,1994.30 C565.50,1996.58 566.43,1998.78 568.00,2000.40 C569.57,2002.02 572.13,2003.40 574.80,2004.00 C577.47,2004.60 581.27,2004.40 584.00,2004.00 C586.73,2003.60 590.00,2002.00 591.20,2001.60 L588.50,2000.60 C587.37,2000.77 583.85,2001.80 581.70,2001.60 C579.55,2001.40 577.15,2000.62 575.60,1999.40 C574.05,1998.18 572.62,1996.17 572.40,1994.30 C572.18,1992.43 573.00,1990.37 574.30,1988.20 C575.60,1986.03 578.37,1983.33 580.20,1981.30 C582.03,1979.27 584.27,1977.65 585.30,1976.00 C586.33,1974.35 586.22,1972.17 586.40,1971.40 Z" fill="url(#lg1)" opacity="0.92"/>
<path d="M577.90,1987.30 C579.42,1987.12 583.95,1985.73 587.00,1986.20 C590.05,1986.67 594.15,1988.37 596.20,1990.10 C598.25,1991.83 599.25,1994.40 599.30,1996.60 C599.35,1998.80 598.80,2001.40 596.50,2003.30 C594.20,2005.20 589.12,2007.42 585.50,2008.00 C581.88,2008.58 577.82,2007.75 574.80,2006.80 C571.78,2005.85 568.63,2003.05 567.40,2002.30" fill="none" stroke="url(#lg2)" stroke-width="1.9" stroke-linecap="round" opacity="0.95"/>
<path d="M592.60,1996.80 C592.30,1996.15 591.98,1993.82 590.80,1992.90 C589.62,1991.98 587.37,1991.32 585.50,1991.30 C583.63,1991.28 580.90,1992.05 579.60,1992.80 C578.30,1993.55 577.60,1994.93 577.70,1995.80 C577.80,1996.67 579.07,1997.63 580.20,1998.00 C581.33,1998.37 583.78,1998.00 584.50,1998.00" fill="none" stroke="#ee9a9a" stroke-width="1.9" stroke-linecap="round" opacity="0.95"/>
</svg>
<div class="logo">零六找游戏</div>
<div class="url">www.lingliuyx.com www.06zyx.com</div>
</body></html>
